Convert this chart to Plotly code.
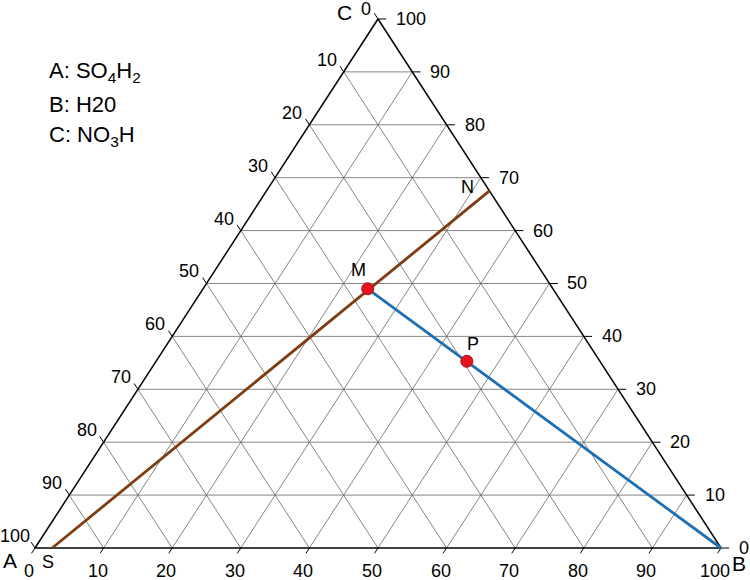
import plotly.graph_objects as go

# ---------------- data ----------------
tick_values = list(range(0, 101, 10))
grid_values = list(range(10, 100, 10))

vertex_names = ["A", "B", "C"]
legend_lines = ["A: SO<sub>4</sub>H<sub>2</sub>", "B: H20", "C: NO<sub>3</sub>H"]

point_names = ["S", "M", "P", "N"]
point_A = [97.5, 27.0, 19.4, 0.0]
point_B = [2.5, 24.0, 45.3, 32.5]
point_C = [0.0, 49.0, 35.3, 67.5]

# brown line S -> N, blue line M -> vertex B
brown_A = [point_A[0], point_A[3]]
brown_B = [point_B[0], point_B[3]]
brown_C = [point_C[0], point_C[3]]
blue_A = [point_A[1], 0.0]
blue_B = [point_B[1], 100.0]
blue_C = [point_C[1], 0.0]

marked = ["M", "P"]

FONT = "Liberation Sans, Arial, Helvetica, sans-serif"


def to_xy(a, b, c):
    s = a + b + c
    return (b + c / 2.0) / s * 100.0, c / s * 100.0


def seg_xy(pts):
    xs, ys = [], []
    for p0, p1 in pts:
        x0, y0 = to_xy(*p0)
        x1, y1 = to_xy(*p1)
        xs += [x0, x1, None]
        ys += [y0, y1, None]
    return xs, ys


fig = go.Figure()

# grid
grid_segs = []
for v in grid_values:
    grid_segs.append(((100 - v, 0, v), (0, 100 - v, v)))      # constant C
    grid_segs.append(((v, 100 - v, 0), (v, 0, 100 - v)))      # constant A
    grid_segs.append(((100 - v, v, 0), (0, v, 100 - v)))      # constant B
gx, gy = seg_xy(grid_segs)
fig.add_trace(go.Scatter(x=gx, y=gy, mode="lines", line=dict(color="#666666", width=0.8),
                         hoverinfo="skip", showlegend=False))

# triangle edges
ex, ey = seg_xy([((100, 0, 0), (0, 100, 0)), ((0, 100, 0), (0, 0, 100)), ((0, 0, 100), (100, 0, 0))])
fig.add_trace(go.Scatter(x=ex, y=ey, mode="lines", line=dict(color="black", width=1.5),
                         hoverinfo="skip", showlegend=False))

# ticks
tick_segs = []
tl, tb, tr = 1.1, 1.0, 1.2
for v in tick_values:
    tick_segs.append(((v, 0, 100 - v), (v, -tl, 100 - v + tl)))          # left edge (A)
    tick_segs.append(((100 - v, v, 0), (100 - v + tb, v, -tb)))          # bottom edge (B)
    tick_segs.append(((0, 100 - v, v), (-tr, 100 - v + tr, v)))          # right edge (C)
tx, ty = seg_xy(tick_segs)
fig.add_trace(go.Scatter(x=tx, y=ty, mode="lines", line=dict(color="black", width=1),
                         hoverinfo="skip", showlegend=False))

# lines
bx, by = zip(*[to_xy(a, b, c) for a, b, c in zip(brown_A, brown_B, brown_C)])
fig.add_trace(go.Scatter(x=list(bx), y=list(by), mode="lines", line=dict(color="#7e3c12", width=2.8),
                         hoverinfo="skip", showlegend=False))
lx, ly = zip(*[to_xy(a, b, c) for a, b, c in zip(blue_A, blue_B, blue_C)])
fig.add_trace(go.Scatter(x=list(lx), y=list(ly), mode="lines", line=dict(color="#1f6fb4", width=2.8),
                         hoverinfo="skip", showlegend=False))

# marked points
mx, my = [], []
for n, a, b, c in zip(point_names, point_A, point_B, point_C):
    if n in marked:
        x, y = to_xy(a, b, c)
        mx.append(x)
        my.append(y)
fig.add_trace(go.Scatter(x=mx, y=my, mode="markers",
                         marker=dict(color="#e3121b", size=12, line=dict(color="#b01018", width=1)),
                         hoverinfo="skip", showlegend=False))

ann = []
tick_font = dict(family=FONT, size=18, color="black")
for v in tick_values:
    # left edge: A values
    x, y = to_xy(v, 0, 100 - v)
    ann.append(dict(x=x, y=y, text=str(v), showarrow=False, xanchor="right", yanchor="middle",
                    xshift=-3 if v == 100 else -5, yshift=12 if v > 0 else 10, font=tick_font))
    # bottom edge: B values
    x, y = to_xy(100 - v, v, 0)
    ann.append(dict(x=x, y=y, text=str(v), showarrow=False, xanchor="center", yanchor="middle",
                    xshift=-6, yshift=-23, font=tick_font))
    # right edge: C values
    x, y = to_xy(0, 100 - v, v)
    ann.append(dict(x=x, y=y, text=str(v), showarrow=False, xanchor="left", yanchor="middle",
                    xshift=16, yshift=0, font=tick_font))

# vertex labels
vert_font = dict(family=FONT, size=21, color="black")
vertex_coords = [(100, 0, 0), (0, 100, 0), (0, 0, 100)]
vertex_shifts = [(-25, -12), (18, -15), (-33, 6)]
for name, coord, (dx, dy) in zip(vertex_names, vertex_coords, vertex_shifts):
    x, y = to_xy(*coord)
    ann.append(dict(x=x, y=y, text=name, showarrow=False, xanchor="center", yanchor="middle",
                    xshift=dx, yshift=dy, font=vert_font))

# point labels
pt_font = dict(family=FONT, size=18, color="black")
pt_shifts = {"S": (-4, -14), "M": (-9, 19), "P": (6, 17), "N": (-22, 4)}
for n, a, b, c in zip(point_names, point_A, point_B, point_C):
    x, y = to_xy(a, b, c)
    dx, dy = pt_shifts[n]
    ann.append(dict(x=x, y=y, text=n, showarrow=False, xanchor="center", yanchor="middle",
                    xshift=dx, yshift=dy, font=pt_font))

# legend text
for i, t in enumerate(legend_lines):
    ann.append(dict(xref="paper", yref="paper", x=47 / 750, y=1 - (72 + 32 * i) / 580, text=t,
                    showarrow=False, xanchor="left", yanchor="middle",
                    font=dict(family=FONT, size=22, color="black")))

fig.update_layout(
    width=750, height=580, autosize=False,
    margin=dict(l=0, r=0, t=0, b=0),
    paper_bgcolor="white", plot_bgcolor="white",
    xaxis=dict(range=[-5.102, 104.23], visible=False, fixedrange=True),
    yaxis=dict(range=[-6.05, 103.59], visible=False, fixedrange=True),
    annotations=ann,
    showlegend=False,
)

fig.write_html("out.html")
